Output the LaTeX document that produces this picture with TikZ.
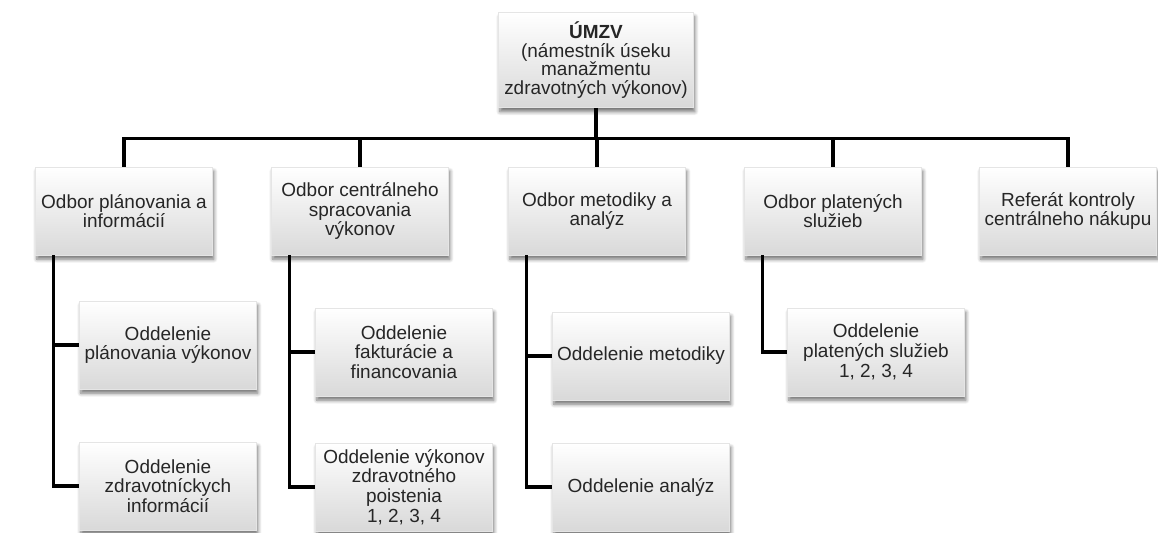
\documentclass[tikz,border=0pt]{standalone}
\usepackage{fontspec}
\setmainfont{Liberation Sans}
\usetikzlibrary{shadows.blur}

\begin{document}
\begin{tikzpicture}[x=0.02cm, y=-0.02cm]
			\tikzset{utvar/.style={rectangle, draw=gray!20, line width=0.3pt, top color=white, bottom color=gray!30, blur shadow={shadow xshift=0.8pt, shadow yshift=-2.4pt, shadow blur steps=6, shadow opacity=55}, minimum width=3.54cm, minimum height=1.76cm, inner xsep=1pt, align=center, text=black!85, font=\fontsize{10.8}{11.2}\selectfont}, spoj/.style={line width=1.9pt, black}};

			\useasboundingbox (0,0) rectangle (1158,532);

			\node[utvar, minimum width=3.9cm, minimum height=1.9cm, font=\fontsize{10.8}{10.6}\selectfont] (umzv) at ( 596,   60) {\textbf{ÚMZV}\\(námestník úseku\\manažmentu\\zdravotných výkonov)};

			\node[utvar] (plan)  at ( 124,  211) {Odbor plánovania a\\informácií};
			\node[utvar] (sprac) at ( 360,  211) {Odbor centrálneho\\spracovania\\výkonov};
			\node[utvar] (metod) at ( 597,  211) {Odbor metodiky a\\analýz};
			\node[utvar] (plat)  at ( 833,  211) {Odbor platených\\služieb};
			\node[utvar] (refer) at (1068,  211) {Referát kontroly\\centrálneho nákupu};

			\node[utvar] (plan1)  at ( 168,  345) {Oddelenie\\plánovania výkonov};
			\node[utvar] (plan2)  at ( 168,  486) {Oddelenie\\zdravotníckych\\informácií};
			\node[utvar] (sprac1) at ( 404,  352) {Oddelenie\\fakturácie a\\financovania};
			\node[utvar] (sprac2) at ( 404,  487) {Oddelenie výkonov\\zdravotného\\poistenia\\1, 2, 3, 4};
			\node[utvar] (metod1) at ( 641,  356) {Oddelenie metodiky};
			\node[utvar] (metod2) at ( 641,  487) {Oddelenie analýz};
			\node[utvar] (plat1)  at ( 876,  352) {Oddelenie\\platených služieb\\1, 2, 3, 4};

			\draw[spoj] (umzv.south) -- ++(0,31) coordinate (zbernica);
			\foreach \o in {plan, sprac, metod, plat, refer}
				\draw[spoj] (zbernica) -| (\o.north);

			\draw[spoj] ([xshift=0.36cm]plan.south west) |- (plan1.west);
			\draw[spoj] ([xshift=0.36cm]plan.south west) |- (plan2.west);
			\draw[spoj] ([xshift=0.36cm]sprac.south west) |- (sprac1.west);
			\draw[spoj] ([xshift=0.36cm]sprac.south west) |- (sprac2.west);
			\draw[spoj] ([xshift=0.36cm]metod.south west) |- (metod1.west);
			\draw[spoj] ([xshift=0.36cm]metod.south west) |- (metod2.west);
			\draw[spoj] ([xshift=0.36cm]plat.south west) |- (plat1.west);

		\end{tikzpicture}
\end{document}
